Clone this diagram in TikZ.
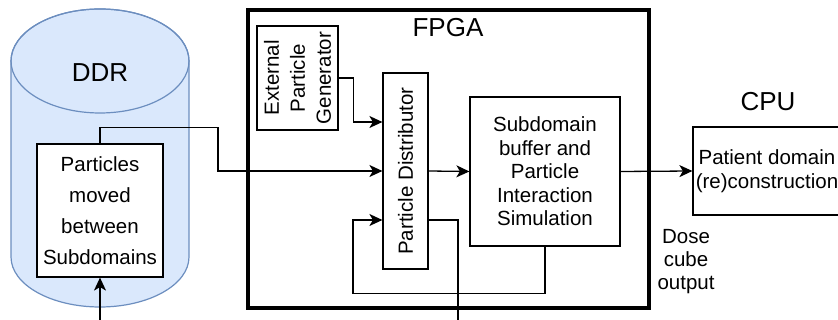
\documentclass[tikz,border=0pt]{standalone}
\usepackage{fontspec}
\setmainfont{Liberation Sans}
\usetikzlibrary{arrows.meta,calc}
\definecolor{DDRFill}{HTML}{DAE8FC}
\definecolor{DDRLine}{HTML}{6C8EBF}

\begin{document}
\begin{tikzpicture}[x=1pt,y=1pt,
    blk/.style={draw,line width=1.2pt,fill=white,inner sep=0pt,align=center,
      font=\fontsize{20.5}{23.5}\selectfont},
    title/.style={font=\fontsize{26}{30}\selectfont},
    flow/.style={line width=1.3pt,-{Stealth[length=13pt,width=12pt,inset=3.5pt]}},
    wire/.style={line width=1.3pt}
  ]
  \useasboundingbox (0,0) rectangle (838,320);
  % DDR memory
  \draw[DDRLine,fill=DDRFill,line width=1.2pt] (11,259) -- (11,63)
    arc[start angle=180,end angle=360,x radius=89pt,y radius=50pt] -- (189,259)
    arc[start angle=0,end angle=180,x radius=89pt,y radius=52pt] -- cycle;
  \draw[DDRLine,line width=1.2pt] (100,259) ellipse [x radius=89pt,y radius=52pt];
  \node[title] (ddr) at (100,247) {DDR};
  \node[blk,minimum width=126,minimum height=133,font=\fontsize{20.5}{31}\selectfont]
    (pmove) at (100,109.5) {Particles\\moved\\between\\Subdomains};
  % FPGA
  \node[draw,line width=4.5pt,minimum width=401,minimum height=298,inner sep=0pt]
    (fpga) at (448.5,161) {};
  \node[title] (fpgalbl) at (448,292) {FPGA};
  \node[blk,rotate=90,minimum width=104,minimum height=81,font=\fontsize{20.5}{26}\selectfont]
    (epg) at (297.5,242) {External\\Particle\\Generator};
  \node[blk,rotate=90,minimum width=196,minimum height=45] (pd) at (405.5,149) {Particle Distributor};
  \node[blk,minimum width=150,minimum height=149] (sim) at (545,148.5)
    {Subdomain\\buffer and\\Particle\\Interaction\\Simulation};
  % CPU
  \node[blk,minimum width=148,minimum height=88] (cpu) at (767,149) {Patient domain\\(re)construction};
  \node[title] (cpulbl) at (768,218) {CPU};
  \node[align=center,font=\fontsize{20.5}{23}\selectfont] (dose) at (686,58) {Dose\\cube\\output};
  % connections (pd is rotated: north = left side, south = right side)
  \draw[flow] (epg.south) -- ++(15,0) |- ($(pd.north)+(0,49)$);
  \draw[flow] (pmove.north) -- ++(0,16) -| (218,149) -- (pd.north);
  \draw[flow] (pd.south) -- (sim.west);
  \draw[flow] (sim.east) -- (cpu.west);
  \draw[flow] (sim.south) -- ++(0,-47) -| (353,100) -- ($(pd.north)+(0,-49)$);
  \coordinate (pdout) at (458,0);
  \draw[wire] ($(pd.south)+(0,-49)$) -| (pdout);
  \coordinate (ddrin) at (100,0);
  \draw[flow] (ddrin) -- (pmove.south);
\end{tikzpicture}
\end{document}
